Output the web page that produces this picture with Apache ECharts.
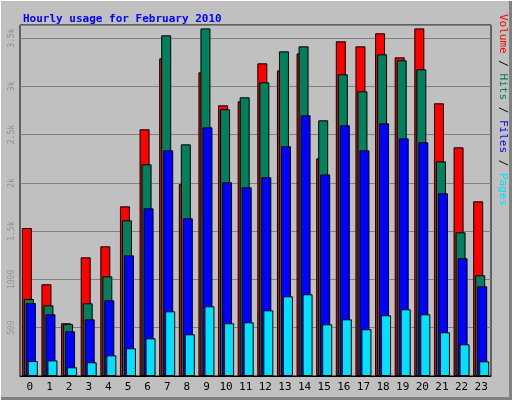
<!DOCTYPE html>
<html><head><meta charset="utf-8">
<script src="https://cdn.jsdelivr.net/npm/echarts@6/dist/echarts.min.js"></script>
<style>html,body{margin:0;padding:0;background:#c0c0c0}#c{width:512px;height:400px}</style>
</head><body><div id="c"></div>
<script>
const hours = ['0','1','2','3','4','5','6','7','8','9','10','11','12','13','14','15','16','17','18','19','20','21','22','23'];
const volume = [1533,950,546,1229,1343,1757,2555,3290,1988,3145,2803,2845,3238,3165,3341,2254,3466,3414,3549,3300,3600,2824,2368,1809];
const hits = [797,732,538,753,1032,1612,2192,3528,2399,3600,2762,2886,3041,3362,3414,2648,3124,2948,3331,3269,3176,2223,1488,1043];
const files = [756,639,463,587,784,1250,1736,2337,1633,2575,2006,1954,2058,2379,2700,2087,2596,2337,2617,2461,2420,1892,1219,929];
const pages = [155,162,90,142,214,287,390,670,432,722,546,556,680,825,846,535,587,484,629,691,639,453,328,152];
const yLabels = {500:'500',1000:'1000',1500:'1.5k',2000:'2k',2500:'2.5k',3000:'3k',3500:'3.5k'};
const chart = echarts.init(document.getElementById('c'));
const mk = (name, data, color) => ({
  name, type:'bar', data, barWidth:10, barGap:'-80%',
  itemStyle:{color, borderColor:'#000', borderWidth:1}, animation:false
});
chart.setOption({
  backgroundColor:'#c0c0c0',
  animation:false,
  title:{text:'Hourly usage for February 2010', left:18, top:9,
    textStyle:{color:'#0000ff', fontFamily:'DejaVu Sans Mono', fontWeight:'bold', fontSize:11}},
  grid:{left:20, right:21, top:25, bottom:24, show:true, backgroundColor:'#c0c0c0', borderColor:'#000', borderWidth:1},
  xAxis:{type:'category', data:hours,
    axisLine:{lineStyle:{color:'#000'}}, axisTick:{show:false},
    axisLabel:{color:'#000', fontFamily:'DejaVu Sans Mono', fontSize:11, margin:6}},
  yAxis:{type:'value', min:0, max:3635, interval:500,
    axisLine:{show:false}, axisTick:{show:false},
    splitLine:{lineStyle:{color:'#808080', width:1}},
    axisLabel:{rotate:90, color:'#909090', fontFamily:'DejaVu Sans Mono', fontSize:8, margin:4,
      formatter:v=>yLabels[v]||''}},
  series:[mk('Volume',volume,'#ff0000'), mk('Hits',hits,'#00805c'), mk('Files',files,'#0000ff'), mk('Pages',pages,'#00e0ff')],
  graphic:[
    {type:'rect', shape:{x:0.5,y:0.5,width:511,height:399}, style:{fill:null, stroke:'#ffffff', lineWidth:1}, silent:true},
    {type:'polyline', shape:{points:[[511,1],[511,399],[1,399]]}, style:{stroke:'#808080', lineWidth:4, fill:null}, silent:true},
    {type:'text', x:503, y:110, rotation:-Math.PI/2, style:{
      text:'{r|Volume} {k|/} {g|Hits} {k|/} {b|Files} {k|/} {c|Pages}',
      align:'center', verticalAlign:'middle', font:'11px DejaVu Sans Mono',
      rich:{r:{fill:'#ff0000',font:'11px DejaVu Sans Mono'},g:{fill:'#00805c',font:'11px DejaVu Sans Mono'},
            b:{fill:'#0000ff',font:'11px DejaVu Sans Mono'},c:{fill:'#00e0ff',font:'11px DejaVu Sans Mono'},
            k:{fill:'#000',font:'11px DejaVu Sans Mono'}}}}
  ]
});
</script></body></html>
